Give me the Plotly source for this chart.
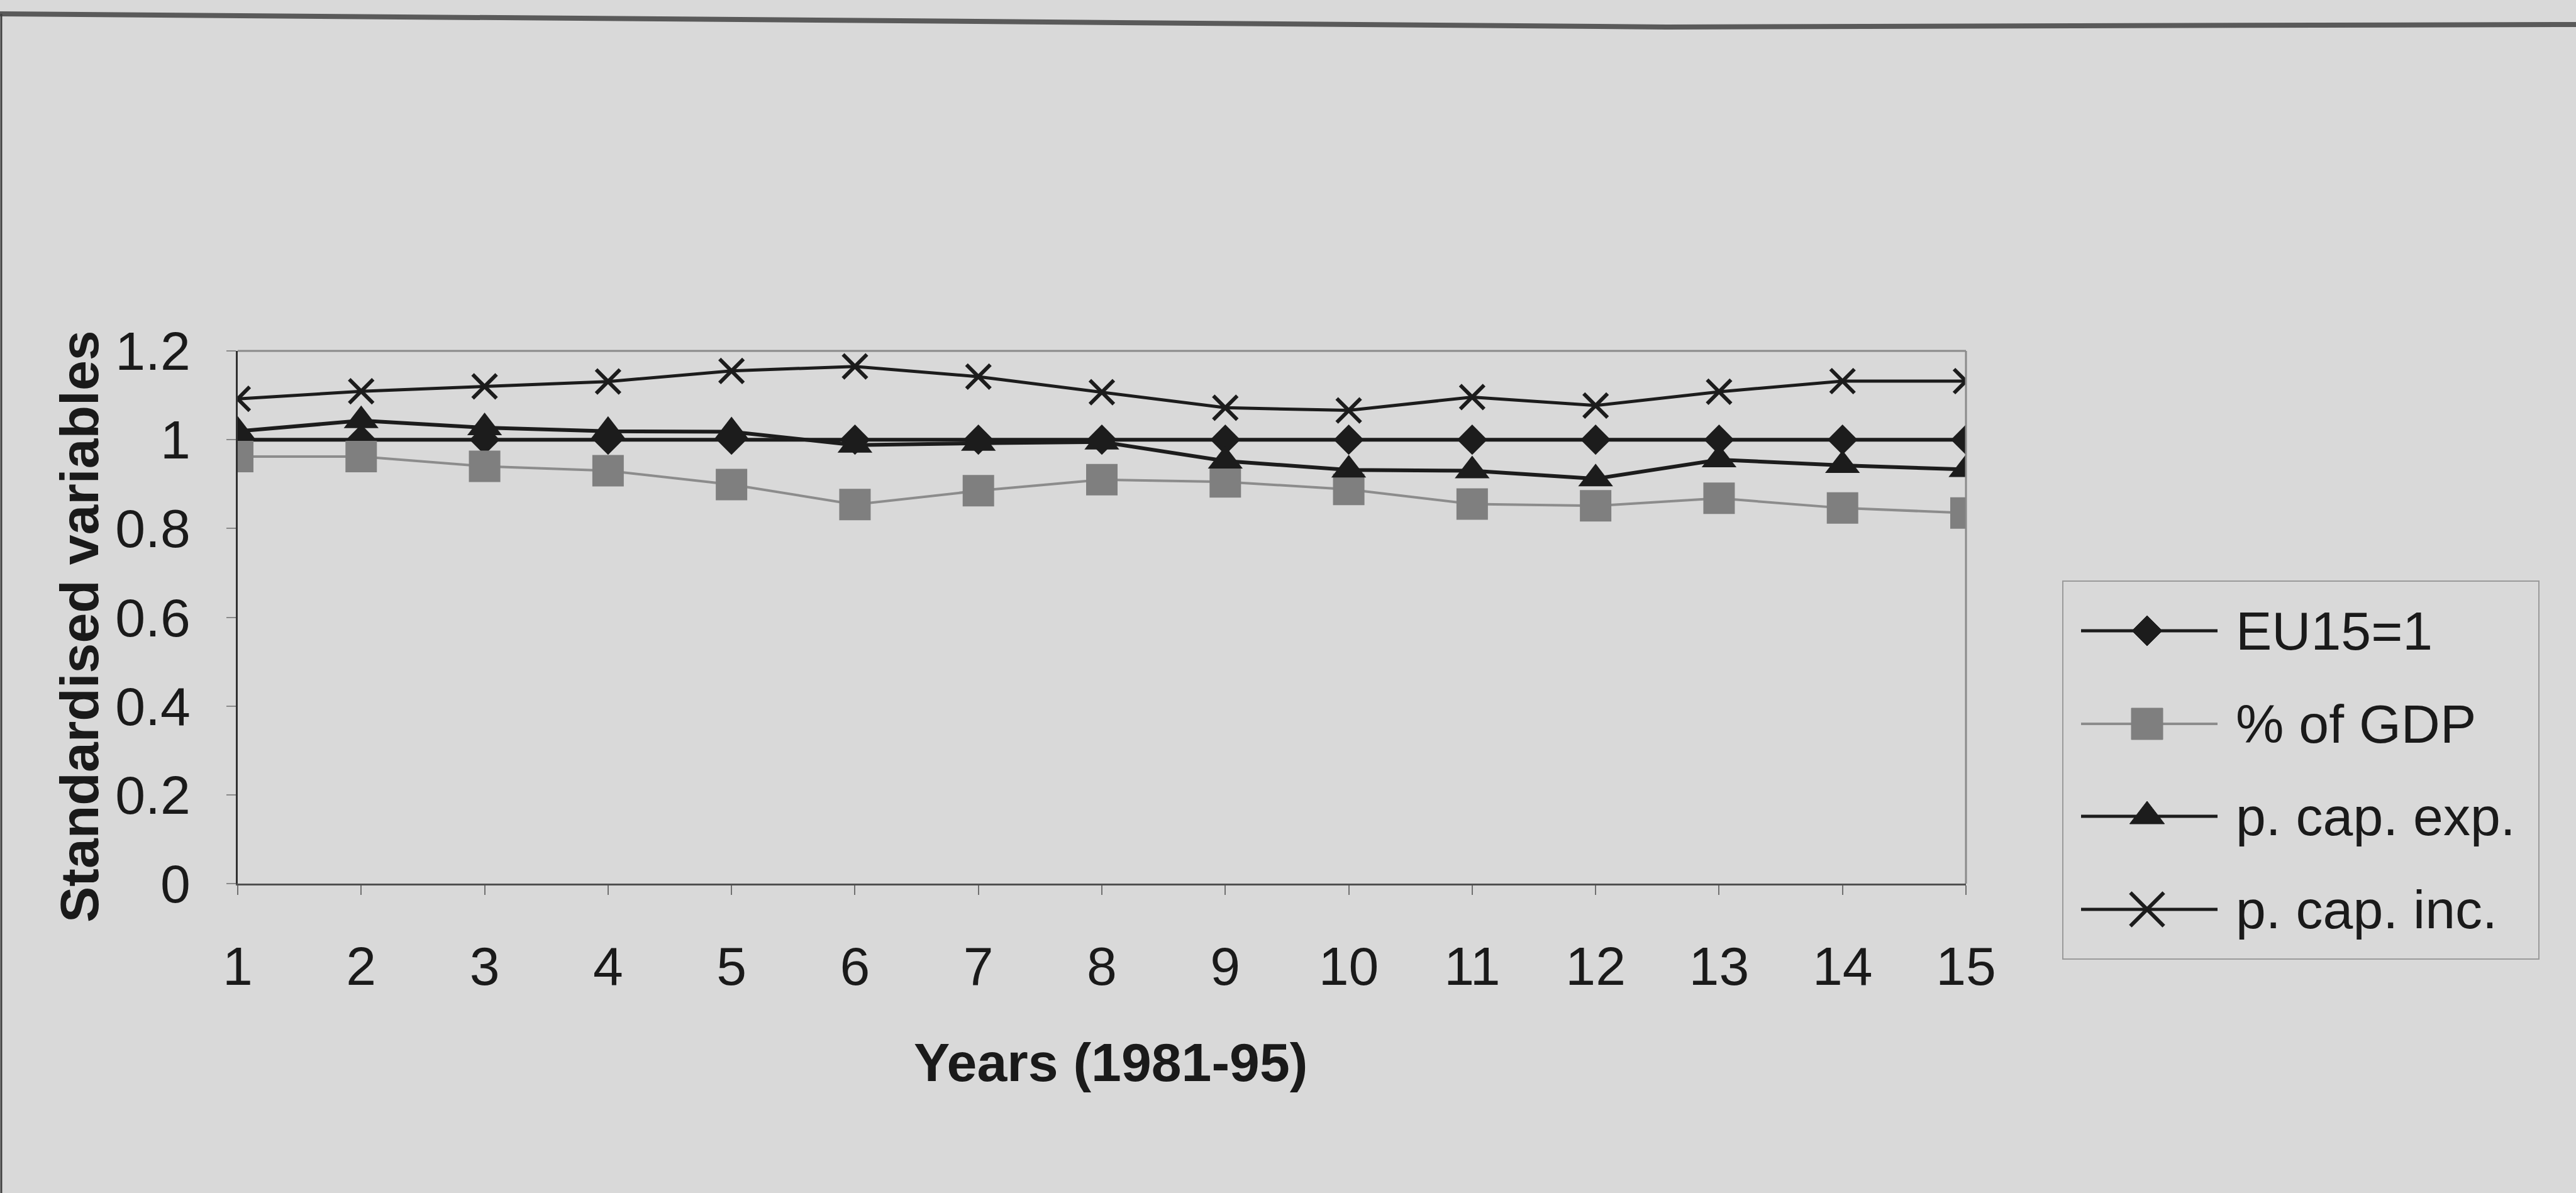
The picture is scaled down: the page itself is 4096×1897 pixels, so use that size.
import plotly.graph_objects as go

# ---------------- data ----------------
years = list(range(1, 16))
tick_labels = [str(v) for v in years]
eu15 = [1.0, 1.0, 1.0, 1.0, 1.0, 1.0, 1.0, 1.0, 1.0, 1.0, 1.0, 1.0, 1.0, 1.0, 1.0]
pct_gdp = [0.962, 0.962, 0.94, 0.93, 0.899, 0.854, 0.885, 0.91, 0.905, 0.888,
           0.855, 0.851, 0.868, 0.846, 0.835]
pcap_exp = [1.019, 1.043, 1.027, 1.019, 1.018, 0.988, 0.992, 0.995, 0.952, 0.932,
            0.93, 0.912, 0.955, 0.942, 0.933]
pcap_inc = [1.092, 1.109, 1.12, 1.131, 1.155, 1.165, 1.142, 1.107, 1.072, 1.066,
            1.096, 1.077, 1.108, 1.132, 1.132]
series_names = ["EU15=1", "% of GDP", "p. cap. exp.", "p. cap. inc."]

# ---------------- layout geometry (output pixels) ----------------
W, H = 4096, 1897
L, R, T, B = 378, 3126, 558, 1405
PW, PH = R - L, B - T

def px(x):
    return (x - L) / PW

def py(y):
    return (B - y) / PH

DARK = "#1c1c1c"
GREY = "#8c8c8c"
SQ = "#7f7f7f"
BG = "#d9d9d9"
FONT = "Liberation Sans, Arial, sans-serif"

fig = go.Figure()
fig.add_trace(go.Scatter(x=years, y=eu15, name=series_names[0], mode="lines+markers",
                         line=dict(color=DARK, width=6),
                         marker=dict(symbol="diamond", size=37, color=DARK)))
fig.add_trace(go.Scatter(x=years, y=pct_gdp, name=series_names[1], mode="lines+markers",
                         line=dict(color=GREY, width=4),
                         marker=dict(symbol="square", size=50, color=SQ)))
fig.add_trace(go.Scatter(x=years, y=pcap_exp, name=series_names[2], mode="lines+markers",
                         line=dict(color=DARK, width=6),
                         marker=dict(symbol="triangle-up", size=48, color=DARK)))
fig.add_trace(go.Scatter(x=years, y=pcap_inc, name=series_names[3], mode="lines+markers",
                         line=dict(color=DARK, width=5),
                         marker=dict(symbol="x-thin", size=38, color=DARK,
                                     line=dict(color=DARK, width=6))))

fig.update_layout(
    width=W, height=H,
    margin=dict(l=L, r=W - R, t=T, b=H - B, autoexpand=False),
    paper_bgcolor=BG, plot_bgcolor=BG,
    showlegend=False,
    font=dict(family=FONT, size=86, color="#1a1a1a"),
)
fig.update_xaxes(range=[1, 15], tickmode="array", tickvals=years, ticktext=tick_labels,
                 showgrid=False, zeroline=False, showline=True, linecolor="#505050",
                 linewidth=3, ticks="outside", ticklen=15, tickwidth=2, tickcolor="#707070",
                 ticklabelstandoff=40, tickfont=dict(size=86))
fig.update_yaxes(range=[0, 1.2], tick0=0, dtick=0.2, showgrid=False, zeroline=False,
                 showline=True, linecolor="#303030", linewidth=3, ticks="outside",
                 ticklen=15, tickwidth=2, tickcolor="#8a8a8a", ticklabelstandoff=40,
                 tickfont=dict(size=86))

shapes = []
# plot-area top and right borders (grey)
shapes.append(dict(type="line", xref="paper", yref="paper", x0=0, x1=1, y0=1, y1=1,
                   line=dict(color="#8a8a8a", width=3)))
shapes.append(dict(type="line", xref="paper", yref="paper", x0=1, x1=1, y0=0, y1=1,
                   line=dict(color="#8a8a8a", width=3)))
# outer frame (top and left edges of the scanned chart)
shapes.append(dict(type="path", xref="paper", yref="paper",
                   path=f"M {px(0)},{py(22)} L {px(1300)},{py(32)} L {px(2650)},{py(43)} "
                        f"L {px(3300)},{py(41)} L {px(4096)},{py(39)}",
                   line=dict(color="#5a5a5a", width=8)))
shapes.append(dict(type="line", xref="paper", yref="paper", x0=px(2), x1=px(2),
                   y0=py(22), y1=py(1897), line=dict(color="#404040", width=3)))

# legend box
shapes.append(dict(type="rect", xref="paper", yref="paper", x0=px(3280), x1=px(4037),
                   y0=py(1525), y1=py(924), line=dict(color="#9a9a9a", width=2)))
rows = [1003, 1151, 1298, 1446]
line_x0, line_x1, mx, text_x = 3309, 3526, 3414, 3553
annotations = []
styles = [(DARK, 5), (GREY, 4), (DARK, 5), (DARK, 5)]
for i, cy in enumerate(rows):
    col, lw = styles[i]
    shapes.append(dict(type="line", xref="paper", yref="paper", x0=px(line_x0), x1=px(line_x1),
                       y0=py(cy), y1=py(cy), line=dict(color=col, width=lw)))
    if i == 0:
        rd = 0.65 * 37
        p = (f"M {px(mx + rd)},{py(cy)} L {px(mx)},{py(cy + rd)} L {px(mx - rd)},{py(cy)} "
             f"L {px(mx)},{py(cy - rd)} Z")
        shapes.append(dict(type="path", xref="paper", yref="paper", path=p,
                           fillcolor=DARK, line=dict(color=DARK, width=1)))
    elif i == 1:
        h = 25
        shapes.append(dict(type="rect", xref="paper", yref="paper", x0=px(mx - h), x1=px(mx + h),
                           y0=py(cy + h), y1=py(cy - h), fillcolor=SQ,
                           line=dict(color=SQ, width=1)))
    elif i == 2:
        r = 24
        rt = r * 2 / 3 ** 0.5
        rs = r / 2
        p = (f"M {px(mx - rt)},{py(cy + rs)} L {px(mx + rt)},{py(cy + rs)} "
             f"L {px(mx)},{py(cy - r)} Z")
        shapes.append(dict(type="path", xref="paper", yref="paper", path=p,
                           fillcolor=DARK, line=dict(color=DARK, width=1)))
    else:
        rx = 1.4 * 19
        p = (f"M {px(mx + rx)},{py(cy + rx)} L {px(mx - rx)},{py(cy - rx)} "
             f"M {px(mx + rx)},{py(cy - rx)} L {px(mx - rx)},{py(cy + rx)}")
        shapes.append(dict(type="path", xref="paper", yref="paper", path=p,
                           line=dict(color=DARK, width=6)))
    annotations.append(dict(xref="paper", yref="paper", x=px(text_x), y=py(cy),
                            xanchor="left", yanchor="middle", showarrow=False,
                            text=series_names[i], font=dict(size=86, family=FONT)))

# axis titles
annotations.append(dict(xref="paper", yref="paper", x=px(126), y=py(996),
                        xanchor="center", yanchor="middle", showarrow=False, textangle=-90,
                        text="<b>Standardised variables</b>", font=dict(size=86, family=FONT)))
annotations.append(dict(xref="paper", yref="paper", x=px(1766), y=py(1689),
                        xanchor="center", yanchor="middle", showarrow=False,
                        text="<b>Years (1981-95)</b>", font=dict(size=86, family=FONT)))

fig.update_layout(shapes=shapes, annotations=annotations)
fig.write_html("out.html")
